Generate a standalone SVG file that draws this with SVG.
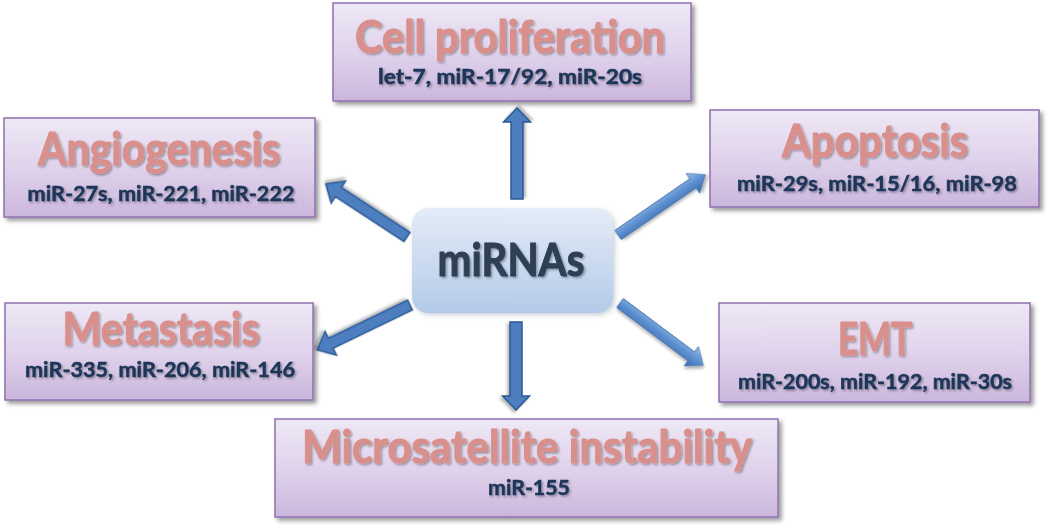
<svg xmlns="http://www.w3.org/2000/svg" width="1050" height="526" viewBox="0 0 1050 526">
<defs>
<linearGradient id="boxg" x1="0" y1="0" x2="0" y2="1">
<stop offset="0" stop-color="#eee8f5"/>
<stop offset="0.5" stop-color="#e0d3ec"/>
<stop offset="1" stop-color="#cbb6dc"/>
</linearGradient>
<linearGradient id="centg" x1="0" y1="0" x2="0" y2="1">
<stop offset="0" stop-color="#e4ecf8"/>
<stop offset="1" stop-color="#b4cae8"/>
</linearGradient>
<linearGradient id="arrg" x1="0" y1="0" x2="0" y2="1">
<stop offset="0" stop-color="#9dbfe8"/>
<stop offset="0.5" stop-color="#5b8fd0"/>
<stop offset="1" stop-color="#3a6aa8"/>
</linearGradient>
<filter id="boxsh" x="-10%" y="-10%" width="125%" height="130%">
<feDropShadow dx="3" dy="3" stdDeviation="2" flood-color="#000" flood-opacity="0.4"/>
</filter>
<filter id="censh" x="-10%" y="-10%" width="125%" height="130%">
<feDropShadow dx="2" dy="2" stdDeviation="2.5" flood-color="#6a7a90" flood-opacity="0.35"/>
</filter>
<filter id="txsh" x="-5%" y="-20%" width="115%" height="150%">
<feDropShadow dx="1.5" dy="1.5" stdDeviation="1.2" flood-color="#000" flood-opacity="0.35"/>
</filter>
<filter id="arsh" x="-30%" y="-30%" width="160%" height="160%">
<feDropShadow dx="2" dy="2" stdDeviation="1.5" flood-color="#000" flood-opacity="0.3"/>
</filter>
</defs>
<style>
.box{fill:url(#boxg);stroke:#8e70b0;stroke-width:1.5;filter:url(#boxsh)}
.title{font-family:Lato,"Open Sans","Liberation Sans",sans-serif;font-weight:bold;fill:#d98f8b;stroke:#d98f8b;stroke-width:1;text-anchor:middle;font-size:46px;filter:url(#txsh)}
.sub{font-family:Lato,"Open Sans","Liberation Sans",sans-serif;font-weight:bold;fill:#1c3558;stroke:#1c3558;stroke-width:0.5;text-anchor:middle;font-size:21.5px;filter:url(#txsh)}
.arr{fill:#4d7fc0;stroke:#2c5a94;stroke-width:1.5;stroke-linejoin:miter;filter:url(#arsh)}
.arr2{fill:url(#arrg);stroke:#3e6ea9;stroke-width:0.8;filter:url(#arsh)}
</style>
<rect width="1050" height="526" fill="#ffffff"/>

<g id="connectors">
<path class="arr" transform="translate(517,199) rotate(-90)" d="M0,-6 L77,-6 L77,-13.5 L91,0 L77,13.5 L77,6 L0,6 Z"/>
<path class="arr" transform="translate(516,322) rotate(90)" d="M0,-6 L74,-6 L74,-13.5 L88,0 L74,13.5 L74,6 L0,6 Z"/>
<path class="arr" transform="translate(407,237) rotate(-146.8)" d="M0,-5.5 L82,-5.5 L82,-13 L97,0 L82,13 L82,5.5 L0,5.5 Z"/>
<path class="arr" transform="translate(410,305) rotate(154.2)" d="M0,-5.5 L88,-5.5 L88,-13 L103,0 L88,13 L88,5.5 L0,5.5 Z"/>
<path class="arr2" transform="translate(620,303) rotate(36.8)" d="M0,-5.5 L89,-5.5 L89,-12 L104,0 L89,12 L89,5.5 L0,5.5 Z"/>
<path class="arr2" transform="translate(618,235) rotate(-34.6)" d="M0,-5.5 L91,-5.5 L91,-12 L106,0 L91,12 L91,5.5 L0,5.5 Z"/>
</g>

<g id="center">
<rect x="412" y="208" width="201" height="105" rx="16" ry="16" fill="url(#centg)" filter="url(#censh)"/>
<text x="511" y="276" font-family="Lato,'Open Sans','Liberation Sans',sans-serif" font-weight="bold" font-size="46" fill="#2e3f55" stroke="#2e3f55" stroke-width="1" text-anchor="middle" textLength="147" lengthAdjust="spacingAndGlyphs" filter="url(#txsh)">miRNAs</text>
</g>

<g id="cell-proliferation">
<rect class="box" x="333" y="3" width="358" height="98"/>
<text class="title" x="510" y="53" textLength="310" lengthAdjust="spacingAndGlyphs">Cell proliferation</text>
<text class="sub" x="510" y="84" textLength="264" lengthAdjust="spacingAndGlyphs">let-7, miR-17/92, miR-20s</text>
</g>

<g id="angiogenesis">
<rect class="box" x="4" y="118" width="311" height="99"/>
<text class="title" x="159" y="165" textLength="242" lengthAdjust="spacingAndGlyphs">Angiogenesis</text>
<text class="sub" x="161" y="201" textLength="267" lengthAdjust="spacingAndGlyphs">miR-27s, miR-221, miR-222</text>
</g>

<g id="apoptosis">
<rect class="box" x="710" y="110" width="329" height="97"/>
<text class="title" x="875" y="157" textLength="186" lengthAdjust="spacingAndGlyphs">Apoptosis</text>
<text class="sub" x="877" y="191" textLength="280" lengthAdjust="spacingAndGlyphs">miR-29s, miR-15/16, miR-98</text>
</g>

<g id="metastasis">
<rect class="box" x="5" y="303" width="308" height="97"/>
<text class="title" x="161" y="345" textLength="197" lengthAdjust="spacingAndGlyphs">Metastasis</text>
<text class="sub" x="160" y="377" textLength="270" lengthAdjust="spacingAndGlyphs">miR-335, miR-206, miR-146</text>
</g>

<g id="emt">
<rect class="box" x="719" y="303" width="311" height="99"/>
<text class="title" x="875" y="355" textLength="74" lengthAdjust="spacingAndGlyphs">EMT</text>
<text class="sub" x="875" y="389" textLength="274" lengthAdjust="spacingAndGlyphs">miR-200s, miR-192, miR-30s</text>
</g>

<g id="microsatellite-instability">
<rect class="box" x="275" y="419" width="503" height="98"/>
<text class="title" x="527" y="463" textLength="450" lengthAdjust="spacingAndGlyphs">Microsatellite instability</text>
<text class="sub" x="529" y="495" textLength="82" lengthAdjust="spacingAndGlyphs">miR-155</text>
</g>
</svg>
